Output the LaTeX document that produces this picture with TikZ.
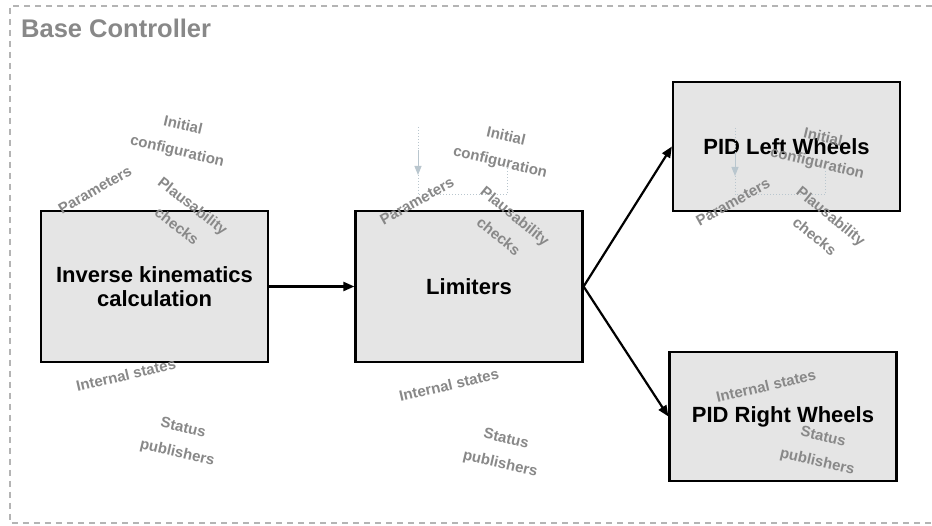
\documentclass[tikz,border=0pt]{standalone}
\usepackage{fontspec}
\setmainfont{Liberation Sans}
\usetikzlibrary{arrows.meta}
\definecolor{boxfill}{HTML}{E5E5E5}
\definecolor{notegray}{HTML}{888888}
\definecolor{framegray}{HTML}{B4B4B4}
\definecolor{flowblue}{HTML}{B9C6CE}
\tikzset{
  block/.style={draw=black, line width=2.2pt, fill=boxfill, align=center,
    inner sep=0pt, font=\bfseries\fontsize{22}{24}\selectfont},
  bigblock/.style={block, minimum width=227pt, minimum height=151pt},
  pidblock/.style={block, minimum width=227pt, minimum height=129pt},
  note/.style={text=notegray, align=center, inner sep=0pt,
    font=\bfseries\fontsize{15}{26}\selectfont},
  flow/.style={black, line width=2.2pt, -{Triangle[length=11pt,width=9pt]}},
  hint/.style={flowblue, line width=1pt, dotted},
  hinttip/.style={flowblue, line width=1pt, -{Triangle[length=9pt,width=7pt,fill=flowblue]}}
}
\begin{document}
\begin{tikzpicture}[x=1pt, y=-1pt]
\useasboundingbox (0,0) rectangle (932,526);
\fill[white] (0,0) rectangle (932,526);

% outer dashed frame of the controller
\draw[framegray, line width=1.8pt, dash pattern=on 6pt off 5pt]
  (932,6) -- (10,6) -- (10,523) -- (932,523);
\node[anchor=west, text=notegray, inner sep=0pt,
  font=\bfseries\fontsize{25.5}{28}\selectfont] (title) at (21,28) {Base Controller};

% processing blocks
\node[bigblock] (ik)  at (154.5,286.5) {Inverse kinematics\\calculation};
\node[bigblock] (lim) at (469,286.5) {Limiters};
\node[pidblock] (pidl) at (786.5,146.5) {PID Left Wheels};
\node[pidblock] (pidr) at (783,416.5) {PID Right Wheels};

% data flow
\draw[flow] (ik.east) -- (lim.west);
\draw[flow] (lim.east) -- (pidl.west);
\draw[flow] (lim.east) -- (pidr.west);

% parameter paths of the limiters
\coordinate (la) at (418,127);
\coordinate (lb) at (418,195);
\coordinate (lc) at (507,195);
\coordinate (ld) at (507,167);
\draw[hint] (la) -- (lb) -- (lc) -- (ld);
\draw[hinttip] (418,150) -- (418,175);

% parameter paths of the left wheel PID
\coordinate (pa) at (735,128);
\coordinate (pb) at (735,195);
\coordinate (pc) at (825,195);
\coordinate (pd) at (825,170);
\draw[hint] (pa) -- (pb) -- (pc) -- (pd);
\draw[hinttip] (735,152) -- (735,176);

% annotations: inverse kinematics
\node[note, rotate=-13] (ik-init)  at (180,139) {Initial\\configuration};
\node[note, rotate=30]  (ik-par)   at (95,190)  {Parameters};
\node[note, rotate=-38] (ik-plaus) at (185,216) {Plausability\\checks};
\node[note, rotate=13]  (ik-int)   at (126,375) {Internal states};
\node[note, rotate=-13] (ik-stat)  at (180,441) {Status\\publishers};

% annotations: limiters
\node[note, rotate=-13] (lim-init)  at (503,150) {Initial\\configuration};
\node[note, rotate=29]  (lim-par)   at (417,201) {Parameters};
\node[note, rotate=-39] (lim-plaus) at (507,226) {Plausability\\checks};
\node[note, rotate=13]  (lim-int)   at (449,385) {Internal states};
\node[note, rotate=-13] (lim-stat)  at (503,452) {Status\\publishers};

% annotations: left wheel PID
\node[note, rotate=-13] (pl-init)  at (820,151) {Initial\\configuration};
\node[note, rotate=29]  (pl-par)   at (733,202) {Parameters};
\node[note, rotate=-39] (pl-plaus) at (823,226) {Plausability\\checks};

% annotations: right wheel PID
\node[note, rotate=13]  (pr-int)  at (766,386) {Internal states};
\node[note, rotate=-13] (pr-stat) at (820,450) {Status\\publishers};
\end{tikzpicture}
\end{document}
